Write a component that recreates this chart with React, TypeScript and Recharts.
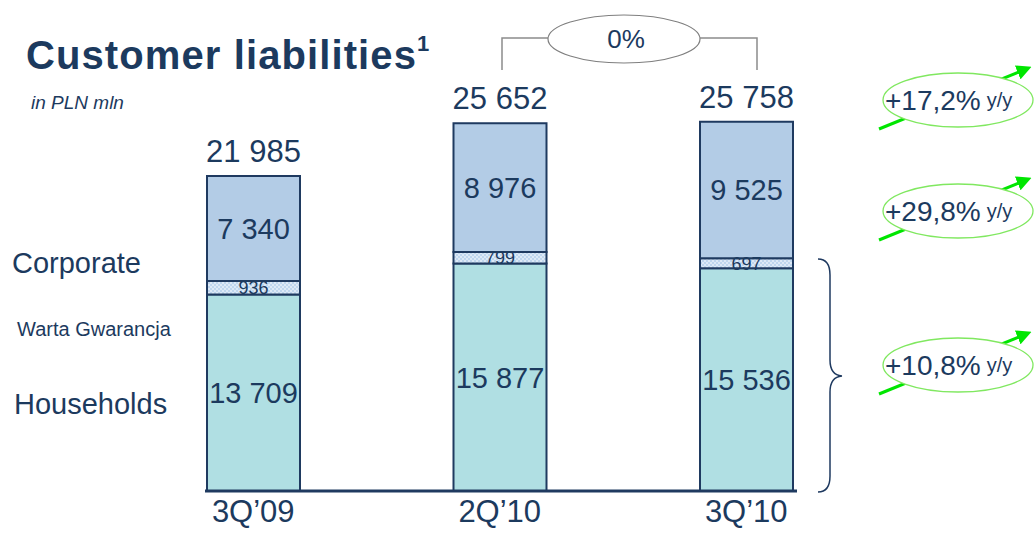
import { Bar, BarChart, LabelList, XAxis, YAxis } from "recharts";

const periods = ["3Q’09", "2Q’10", "3Q’10"];
const households = [13709, 15877, 15536];
const warta = [936, 799, 697];
const corporate = [7340, 8976, 9525];
const totals = [21985, 25652, 25758];

const seriesNames = ["Corporate", "Warta Gwarancja", "Households"];
const yoyLabels = ["+17,2%", "+29,8%", "+10,8%"];
const changeLabel = "0%";

const NAVY = "#1c3a5e";
const EDGE = "#1f3a60";
const FONT = "'Liberation Sans', Arial, sans-serif";

const data = periods.map((period, i) => ({
  period,
  households: households[i],
  warta: warta[i],
  corporate: corporate[i],
  total: totals[i],
}));

const fmt = (v: number) => String(v).replace(/\B(?=(\d{3})+(?!\d))/g, " ");

// left-side series captions
const captionStyle = [
  { top: 247, left: 12, fontSize: 29 },
  { top: 318, left: 17, fontSize: 20 },
  { top: 388, left: 14, fontSize: 29 },
];

const yoyCenters = [100, 211, 365];

function Overlay() {
  return (
    <svg
      width={1034}
      height={535}
      style={{ position: "absolute", left: 0, top: 0, pointerEvents: "none" }}
    >
      <defs>
        <marker id="arr" markerWidth="5" markerHeight="5" refX="3" refY="2.5" orient="auto">
          <path d="M0,0 L5,2.5 L0,5 z" fill="#00e600" />
        </marker>
      </defs>
      {/* bracket between 2Q'10 and 3Q'10 */}
      <path d="M502,70 V38 H549 M700,38 H757 V70" fill="none" stroke="#8c8c8c" strokeWidth={1.5} />
      <ellipse cx={624} cy={39} rx={76} ry={24} fill="#fff" stroke="#7f7f7f" strokeWidth={1.2} />
      <text x={626} y={39} textAnchor="middle" dominantBaseline="central" fontSize={26} fill={NAVY} fontFamily={FONT}>
        {changeLabel}
      </text>

      {/* curly brace */}
      <path
        d="M818,259 Q830,259 830,275 L830,360 Q830,375 842,376 Q830,377 830,392 L830,476 Q830,492 818,492"
        fill="none"
        stroke={EDGE}
        strokeWidth={1.5}
      />

      {yoyLabels.map((lbl, i) => {
        const cy = yoyCenters[i];
        return (
          <g key={lbl}>
            <line
              x1={879}
              y1={cy + 29}
              x2={1026}
              y2={cy - 31}
              stroke="#00e600"
              strokeWidth={3}
              markerEnd="url(#arr)"
            />
            <ellipse cx={958} cy={cy} rx={75} ry={27} fill="#fff" stroke="#80e860" strokeWidth={1.3} />
            <text x={885} y={cy} dominantBaseline="central" fill={NAVY} fontFamily={FONT}>
              <tspan fontSize={28}>{lbl}</tspan>
              <tspan fontSize={20} dx={6}>y/y</tspan>
            </text>
          </g>
        );
      })}
    </svg>
  );
}

export default function App() {
  return (
    <div
      style={{
        position: "absolute",
        left: 0,
        top: 0,
        width: 1034,
        height: 535,
        background: "#fff",
        fontFamily: FONT,
        color: NAVY,
      }}
    >
      <div style={{ position: "absolute", left: 26, top: 33, fontSize: 40, fontWeight: 700, letterSpacing: 1.1, whiteSpace: "nowrap" }}>
        Customer liabilities<sup style={{ fontSize: 22, position: "relative", top: -4 }}>1</sup>
      </div>
      <div style={{ position: "absolute", left: 31, top: 92, fontSize: 19, fontStyle: "italic" }}>in PLN mln</div>

      {seriesNames.map((name, i) => (
        <div
          key={name}
          style={{ position: "absolute", whiteSpace: "nowrap", ...captionStyle[i] }}
        >
          {name}
        </div>
      ))}

      <BarChart
        width={1034}
        height={535}
        data={data}
        margin={{ top: 61, right: 237, left: 205, bottom: 0 }}
        style={{ position: "absolute", left: 0, top: 0 }}
      >
        <defs>
          <pattern id="wartaFill" width="4" height="4" patternUnits="userSpaceOnUse">
            <rect width="4" height="4" fill="#bfd6ee" />
            <rect width="2" height="2" fill="#dde9f6" />
            <rect x="2" y="2" width="2" height="2" fill="#dde9f6" />
          </pattern>
        </defs>
        <YAxis hide domain={[0, 30000]} />
        <XAxis
          dataKey="period"
          height={44}
          padding={{ left: -75, right: -72.5 }}
          tickLine={false}
          axisLine={{ stroke: EDGE, strokeWidth: 3 }}
          tickMargin={3}
          tick={{ fill: NAVY, fontSize: 31, fontFamily: FONT }}
        />
        <Bar dataKey="households" stackId="a" fill="#b0dfe3" stroke={EDGE} strokeWidth={2} barSize={93} isAnimationActive={false}>
          <LabelList dataKey="households" position="center" formatter={fmt} fill={NAVY} fontSize={29} fontFamily={FONT} />
        </Bar>
        <Bar dataKey="warta" stackId="a" fill="url(#wartaFill)" stroke={EDGE} strokeWidth={2} barSize={93} isAnimationActive={false}>
          <LabelList dataKey="warta" position="center" formatter={fmt} fill={NAVY} fontSize={18} fontFamily={FONT} />
        </Bar>
        <Bar dataKey="corporate" stackId="a" fill="#b3cce6" stroke={EDGE} strokeWidth={2} barSize={93} isAnimationActive={false}>
          <LabelList dataKey="corporate" position="center" formatter={fmt} fill={NAVY} fontSize={29} fontFamily={FONT} />
          <LabelList dataKey="total" position="top" offset={14} formatter={fmt} fill={NAVY} fontSize={31} fontFamily={FONT} />
        </Bar>
      </BarChart>

      <Overlay />
    </div>
  );
}
